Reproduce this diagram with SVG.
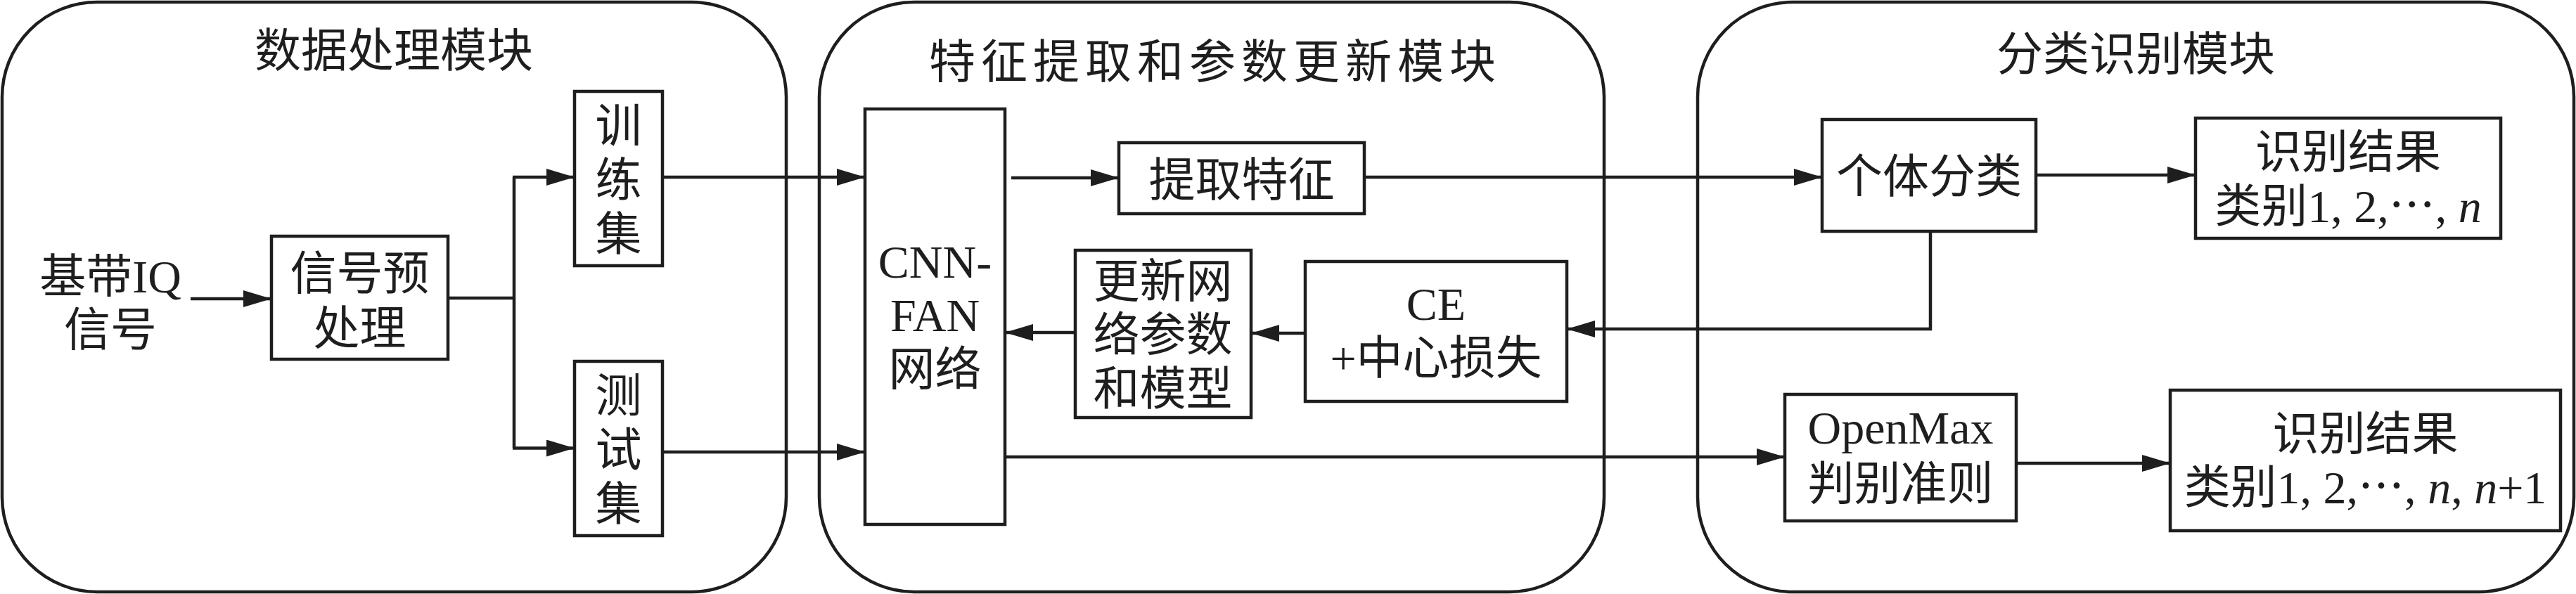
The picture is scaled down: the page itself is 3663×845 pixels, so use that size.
<svg xmlns="http://www.w3.org/2000/svg" width="3663" height="845" viewBox="0 0 3663 845">
<style>
.mod{fill:none;stroke:#1e1e1e;stroke-width:4.5}
.box{fill:#fff;stroke:#1e1e1e;stroke-width:4.5}
.t{font-family:"Liberation Serif","Noto Sans CJK SC",serif;font-size:66px;fill:#1e1e1e;text-anchor:middle}
.title{font-family:"Liberation Serif","Noto Sans CJK SC",serif;font-size:66px;fill:#1e1e1e;text-anchor:middle}
.c{fill:none;stroke:#1e1e1e;stroke-width:4.5}
.a{marker-end:url(#ah)}
.i{font-style:italic}
</style>
<defs>
<marker id="ah" viewBox="0 0 40 24" refX="40" refY="12" markerWidth="40" markerHeight="24" markerUnits="userSpaceOnUse" orient="auto">
<path d="M0,0 L40,12 L0,24 Z" fill="#1e1e1e"/>
</marker>
</defs>
<rect fill="#fff" x="0" y="0" width="3663" height="845"/>

<g id="module-data">
<rect class="mod" x="3" y="3" width="1115" height="839" rx="135" ry="135"/>
<text class="title" x="560" y="95">数据处理模块</text>
</g>
<g id="module-feature">
<rect class="mod" x="1165" y="3" width="1116" height="839" rx="135" ry="135"/>
<text class="title" x="1728" y="111" style="letter-spacing:8px">特征提取和参数更新模块</text>
</g>
<g id="module-classify">
<rect class="mod" x="2414" y="3" width="1246" height="839" rx="135" ry="135"/>
<text class="title" x="3037" y="100">分类识别模块</text>
</g>

<g id="connectors">
<line class="c a" x1="271" y1="425" x2="386" y2="425"/>
<polyline class="c" points="637,424 731,424"/>
<polyline class="c" points="731,252 731,637.5"/>
<line class="c a" x1="729" y1="252" x2="817" y2="252"/>
<line class="c a" x1="729" y1="637.5" x2="817" y2="637.5"/>
<line class="c a" x1="942" y1="252" x2="1230" y2="252"/>
<line class="c a" x1="942" y1="643" x2="1230" y2="643"/>
<line class="c a" x1="1438" y1="253" x2="1591" y2="253"/>
<line class="c a" x1="1940" y1="252" x2="2591" y2="252"/>
<polyline class="c a" points="2745,329 2745,468 2228,468"/>
<line class="c a" x1="1856" y1="474" x2="1779" y2="474"/>
<line class="c a" x1="1529" y1="473" x2="1429" y2="473"/>
<line class="c a" x1="1429" y1="650" x2="2538" y2="650"/>
<line class="c a" x1="2895" y1="249" x2="3122" y2="249"/>
<line class="c a" x1="2867" y1="659" x2="3086" y2="659"/>
</g>

<g id="node-input">
<text class="t" x="157" y="416">基带IQ</text>
<text class="t" x="157" y="492">信号</text>
</g>
<g id="node-preprocess">
<rect class="box" x="386" y="336" width="251" height="175"/>
<text class="t" x="511.5" y="412">信号预</text>
<text class="t" x="511.5" y="490">处理</text>
</g>
<g id="node-train">
<rect class="box" x="817" y="130" width="125" height="248"/>
<text class="t" x="879.5" y="202">训</text>
<text class="t" x="879.5" y="279">练</text>
<text class="t" x="879.5" y="356">集</text>
</g>
<g id="node-test">
<rect class="box" x="817" y="514" width="125" height="248"/>
<text class="t" x="879.5" y="586">测</text>
<text class="t" x="879.5" y="663">试</text>
<text class="t" x="879.5" y="740">集</text>
</g>
<g id="node-cnn">
<rect class="box" x="1230" y="155" width="199" height="591"/>
<text class="t" x="1329.5" y="395">CNN-</text>
<text class="t" x="1329.5" y="471">FAN</text>
<text class="t" x="1329.5" y="548">网络</text>
</g>
<g id="node-extract">
<rect class="box" x="1591" y="203" width="349" height="101"/>
<text class="t" x="1765.5" y="279">提取特征</text>
</g>
<g id="node-update">
<rect class="box" x="1529" y="356" width="250" height="238"/>
<text class="t" x="1653.5" y="423">更新网</text>
<text class="t" x="1653.5" y="499">络参数</text>
<text class="t" x="1653.5" y="576">和模型</text>
</g>
<g id="node-loss">
<rect class="box" x="1856" y="372" width="372" height="199"/>
<text class="t" x="2042" y="455">CE</text>
<text class="t" x="2042" y="532">+中心损失</text>
</g>
<g id="node-classify">
<rect class="box" x="2591" y="170" width="304" height="159"/>
<text class="t" x="2743" y="274">个体分类</text>
</g>
<g id="node-openmax">
<rect class="box" x="2538" y="561" width="329" height="180"/>
<text class="t" x="2702.5" y="631">OpenMax</text>
<text class="t" x="2702.5" y="711">判别准则</text>
</g>
<g id="node-result1">
<rect class="box" x="3122" y="168" width="434" height="171"/>
<text class="t" x="3339" y="239">识别结果</text>
<text class="t" x="3339" y="316">类别1, 2,⋯, <tspan class="i">n</tspan></text>
</g>
<g id="node-result2">
<rect class="box" x="3086" y="555" width="555" height="200"/>
<text class="t" x="3363.5" y="640">识别结果</text>
<text class="t" x="3363.5" y="716">类别1, 2,⋯, <tspan class="i">n</tspan>, <tspan class="i">n</tspan>+1</text>
</g>
</svg>
